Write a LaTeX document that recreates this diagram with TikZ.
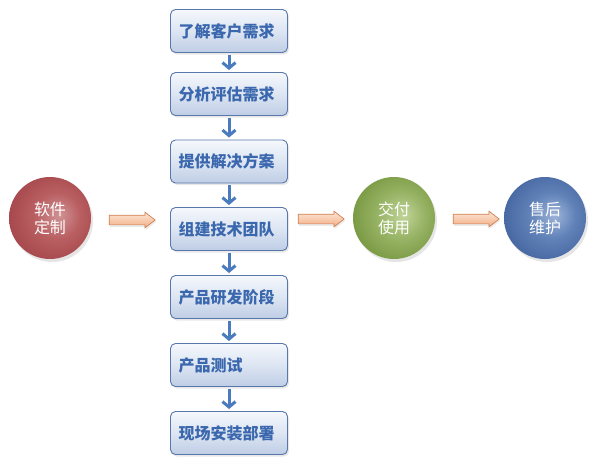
\documentclass[tikz,border=0pt]{standalone}
\usepackage{fontspec}
\setmainfont{Noto Sans CJK SC}
\usetikzlibrary{shapes.arrows,shadows,arrows.meta,calc}
\definecolor{redD}{HTML}{A4454A}
\definecolor{redM}{HTML}{B95F62}
\definecolor{redL}{HTML}{D09294}
\definecolor{greenD}{HTML}{76963F}
\definecolor{greenM}{HTML}{98B466}
\definecolor{greenL}{HTML}{C0D498}
\definecolor{blueD}{HTML}{44649E}
\definecolor{blueM}{HTML}{6082B8}
\definecolor{blueL}{HTML}{9DB3D8}
\definecolor{boxborder}{HTML}{5877AA}
\definecolor{boxtext}{HTML}{3A67AD}
\definecolor{boxtop}{HTML}{F5F8FC}
\definecolor{boxmid}{HTML}{DCE5F2}
\definecolor{boxbot}{HTML}{BFCDE5}
\definecolor{darrow}{HTML}{4A7BBE}
\definecolor{barrowline}{HTML}{D08050}
\definecolor{barrowtop}{HTML}{FDE6D6}
\definecolor{barrowbot}{HTML}{F2AF88}
\pgfdeclareradialshading{redball}{\pgfpoint{6bp}{2bp}}{color(0bp)=(redL); color(14bp)=(redM); color(30bp)=(redD); color(50bp)=(redD)}
\pgfdeclareradialshading{greenball}{\pgfpoint{6bp}{2bp}}{color(0bp)=(greenL); color(14bp)=(greenM); color(30bp)=(greenD); color(50bp)=(greenD)}
\pgfdeclareradialshading{blueball}{\pgfpoint{6bp}{2bp}}{color(0bp)=(blueL); color(14bp)=(blueM); color(30bp)=(blueD); color(50bp)=(blueD)}
\tikzset{
  stepbox/.style={draw=boxborder, line width=0.9pt, rounded corners=5pt,
    minimum width=117pt, minimum height=43pt, text width=101pt, inner xsep=8pt,
    align=left, text=boxtext, font=\bfseries\fontsize{16}{18}\selectfont,
    top color=boxtop, bottom color=boxbot, middle color=boxmid,
    drop shadow={shadow xshift=1.5pt, shadow yshift=-2pt, opacity=0.18}},
  phase/.style={circle, minimum size=82pt, inner sep=0pt, align=center, text=white,
    font=\fontsize{16}{18}\selectfont,
    drop shadow={shadow xshift=2pt, shadow yshift=-3pt, opacity=0.2}},
  blockarrow/.style={single arrow, draw=barrowline, line width=0.7pt,
    minimum height=46pt, inner sep=0pt, inner ysep=4.5pt,
    single arrow head extend=3pt, single arrow tip angle=75,
    top color=barrowtop, bottom color=barrowbot,
    drop shadow={shadow xshift=1pt, shadow yshift=-2pt, opacity=0.15}},
  darr/.style={draw=darrow, line width=3pt,
    -{Straight Barb[length=5.5pt, width=13pt]}, shorten <=2pt, shorten >=2pt}
}
\begin{document}
\begin{tikzpicture}[x=1pt,y=-1pt]
\useasboundingbox (0,0) rectangle (597,461);
\fill[white] (0,0) rectangle (597,461);
\node[stepbox] (b1) at (229,31) {了解客户需求};
\node[stepbox] (b2) at (229,94) {分析评估需求};
\node[stepbox] (b3) at (229,161.5) {提供解决方案};
\node[stepbox] (b4) at (229,229) {组建技术团队};
\node[stepbox] (b5) at (229,297) {产品研发阶段};
\node[stepbox] (b6) at (229,365) {产品测试};
\node[stepbox] (b7) at (229,433) {现场安装部署};
\draw[darr] (b1.south) -- (b2.north);
\draw[darr] (b2.south) -- (b3.north);
\draw[darr] (b3.south) -- (b4.north);
\draw[darr] (b4.south) -- (b5.north);
\draw[darr] (b5.south) -- (b6.north);
\draw[darr] (b6.south) -- (b7.north);
\node[phase, shading=redball] (c1) at (50,218) {软件\\定制};
\node[phase, shading=greenball] (c2) at (394,218) {交付\\使用};
\node[phase, shading=blueball] (c3) at (545,218) {售后\\维护};
\node[blockarrow] (a1) at (129,220) {};
\node[blockarrow] (a2) at (318,219) {};
\node[blockarrow] (a3) at (473,219) {};
\end{tikzpicture}
\end{document}
